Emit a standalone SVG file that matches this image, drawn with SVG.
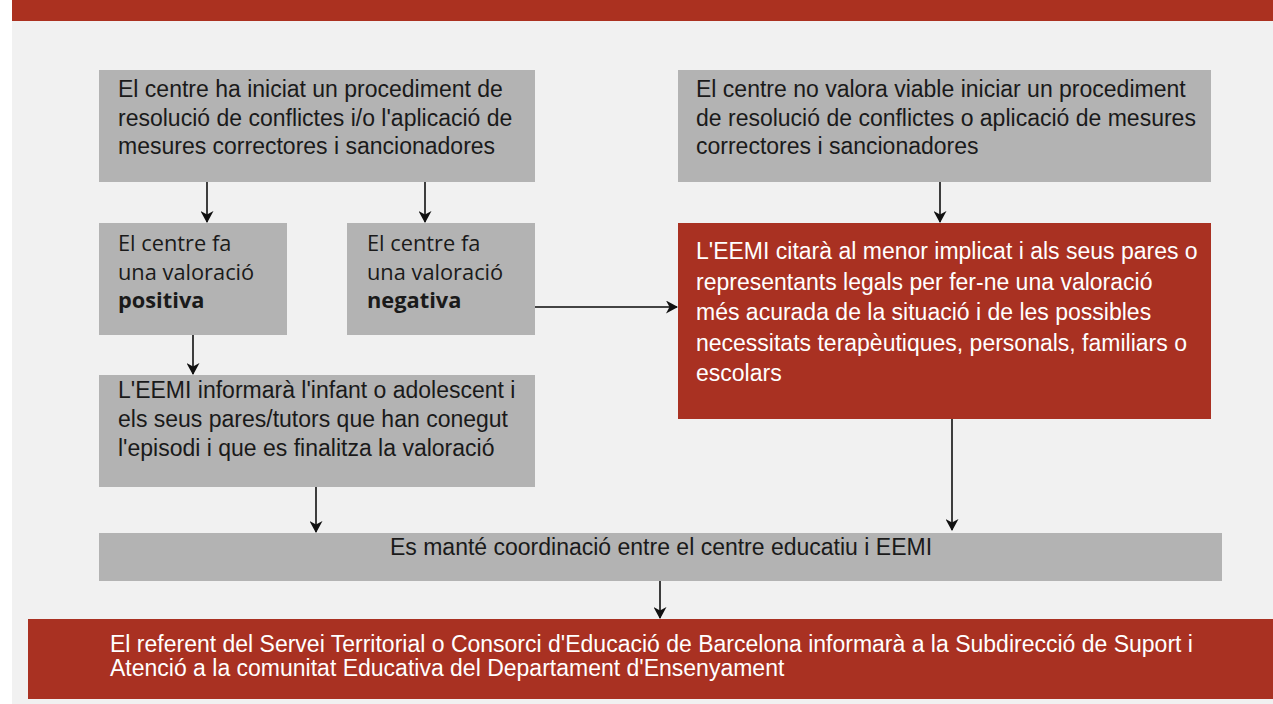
<svg xmlns="http://www.w3.org/2000/svg" width="1273" height="704" viewBox="0 0 1273 704">
<defs>
<marker id="ah" markerWidth="12" markerHeight="13" refX="11" refY="6.5" orient="auto" markerUnits="userSpaceOnUse">
<path d="M0,0 L12,6.5 L0,13 L3.5,6.5 Z" fill="#111"/>
</marker>
<style>
.gray{fill:#b3b3b3}
.red{fill:#a93122}
.t{font-family:"Liberation Sans",Arial,sans-serif;font-size:23px;fill:#1a1a1a}
.tw{font-family:"Liberation Sans",Arial,sans-serif;font-size:23px;fill:#ffffff}
.o{font-family:"Open Sans",sans-serif;font-size:21.8px;fill:#1a1a1a}
.ob{font-weight:bold}
.c{stroke:#111;stroke-width:1.6;fill:none;marker-end:url(#ah)}
</style>
</defs>
<rect x="0" y="0" width="1273" height="704" fill="#ffffff"/>
<rect x="12" y="21" width="1261" height="683" fill="#f1f1f1"/>
<rect x="12" y="0" width="1261" height="21" fill="#ab3120"/>
<g id="n1">
<rect class="gray" x="99" y="70" width="436" height="112"/>
<text class="t" x="118" y="97">El centre ha iniciat un procediment de</text>
<text class="t" x="118" y="125.5">resolució de conflictes i/o l'aplicació de</text>
<text class="t" x="118" y="154">mesures correctores i sancionadores</text>
</g>
<g id="n2">
<rect class="gray" x="678" y="70" width="533" height="112"/>
<text class="t" x="696" y="97">El centre no valora viable iniciar un procediment</text>
<text class="t" x="696" y="125.5">de resolució de conflictes o aplicació de mesures</text>
<text class="t" x="696" y="154">correctores i sancionadores</text>
</g>
<g id="n3">
<rect class="gray" x="99" y="223" width="188" height="112"/>
<text class="o" x="118" y="251">El centre fa</text>
<text class="o" x="118" y="279.5">una valoració</text>
<text class="o ob" x="118" y="308">positiva</text>
</g>
<g id="n4">
<rect class="gray" x="347" y="223" width="188" height="112"/>
<text class="o" x="367" y="251">El centre fa</text>
<text class="o" x="367" y="279.5">una valoració</text>
<text class="o ob" x="367" y="308">negativa</text>
</g>
<g id="n5">
<rect class="red" x="678" y="223" width="533" height="196"/>
<text class="tw" x="696" y="259">L'EEMI citarà al menor implicat i als seus pares o</text>
<text class="tw" x="696" y="289.5">representants legals per fer-ne una valoració</text>
<text class="tw" x="696" y="320">més acurada de la situació i de les possibles</text>
<text class="tw" x="696" y="350.5">necessitats terapèutiques, personals, familiars o</text>
<text class="tw" x="696" y="381">escolars</text>
</g>
<g id="n6">
<rect class="gray" x="99" y="375" width="436" height="112"/>
<text class="t" x="118" y="398">L'EEMI informarà l'infant o adolescent i</text>
<text class="t" x="118" y="427">els seus pares/tutors que han conegut</text>
<text class="t" x="118" y="456">l'episodi i que es finalitza la valoració</text>
</g>
<g id="n7">
<rect class="gray" x="99" y="533" width="1123" height="48"/>
<text class="t" x="661" y="555" text-anchor="middle">Es manté coordinació entre el centre educatiu i EEMI</text>
</g>
<g id="n8">
<rect class="red" x="28" y="619" width="1245" height="80"/>
<text class="tw" x="110" y="652">El referent del Servei Territorial o Consorci d'Educació de Barcelona informarà a la Subdirecció de Suport i</text>
<text class="tw" x="110" y="676">Atenció a la comunitat Educativa del Departament d'Ensenyament</text>
</g>
<g id="connectors">
<line class="c" x1="207" y1="182" x2="207" y2="222"/>
<line class="c" x1="425" y1="182" x2="425" y2="222"/>
<line class="c" x1="940" y1="182" x2="940" y2="222"/>
<line class="c" x1="535" y1="307" x2="677" y2="307" style="stroke:#444;stroke-width:2"/>
<line class="c" x1="193" y1="335" x2="193" y2="374"/>
<line class="c" x1="316" y1="487" x2="316" y2="532"/>
<line class="c" x1="952" y1="419" x2="952" y2="530"/>
<line class="c" x1="660" y1="581" x2="660" y2="618"/>
</g>
</svg>
